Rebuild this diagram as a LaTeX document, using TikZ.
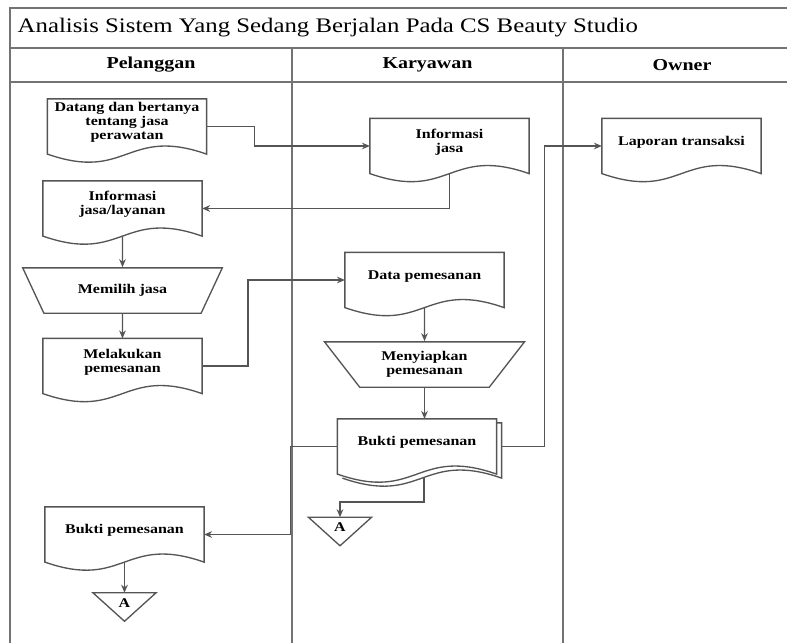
\documentclass[tikz,border=0pt]{standalone}
\usepackage{fontspec}
\setmainfont{Liberation Serif}[FakeStretch=1.2]
\usepackage{tikz}
\usetikzlibrary{positioning, shapes.geometric, arrows.meta, calc}
\definecolor{linegray}{RGB}{85,85,85}
\definecolor{framegray}{RGB}{115,115,115}

\begin{document}
\begin{tikzpicture}[
  x=0.75pt, y=-0.75pt,
  lane/.style={draw=framegray, line width=1.4pt},
  doc/.style={rectangle, minimum width=119pt, minimum height=41pt, text depth=8pt, inner sep=1pt, font=\bfseries\fontsize{10}{10.5}\selectfont, align=center},
  manual/.style={trapezium, trapezium stretches=true, shape border rotate=180, trapezium angle=50, draw=linegray, line width=1pt, minimum width=150pt, minimum height=34pt, inner sep=1pt, font=\bfseries\fontsize{10}{10.5}\selectfont, align=center},
  offpage/.style={rectangle, minimum width=47pt, minimum height=21pt, text depth=6pt, inner sep=0pt, font=\bfseries\fontsize{10}{10.5}\selectfont},
  docline/.style={draw=linegray, line width=1pt},
  arr/.style={-{Stealth[length=6pt, width=5pt]}, draw=linegray, line width=1pt},
]
  \useasboundingbox (0,0) rectangle (787,642);

  \draw[lane] (10,8) rectangle (801,660);
  \draw[lane] (10,48) -- (801,48);
  \draw[lane] (10,82) -- (801,82);
  \draw[lane] (292,48) -- (292,660);
  \draw[lane] (563,48) -- (563,660);

  \node[anchor=west, font=\fontsize{15.5}{18}\selectfont] (title) at (13,28) {Analisis Sistem Yang Sedang Berjalan Pada CS Beauty Studio};
  \node[font=\bfseries\fontsize{12.5}{15}\selectfont] (hpel) at (151,65) {Pelanggan};
  \node[font=\bfseries\fontsize{12.5}{15}\selectfont] (hkar) at (427.5,65) {Karyawan};
  \node[font=\bfseries\fontsize{12.5}{15}\selectfont] (hown) at (682,65) {Owner};

  \node[doc] (datang) at (127,126.5) {Datang dan bertanya\\tentang jasa\\perawatan};
  \node[doc] (infolay) at (122.5,208.5) {Informasi\\jasa/layanan};
  \node[manual] (memilih) at (122.5,290.5) {Memilih jasa};
  \node[doc] (melakukan) at (122.5,366) {Melakukan\\pemesanan};
  \node[doc] (buktip) at (124.5,534.5) {Bukti pemesanan};
  \node[offpage] (triapel) at (124.5,607) {A};

  \node[doc] (infojasa) at (449.5,146) {Informasi\\jasa};
  \node[doc] (datapem) at (424.5,280) {Data pemesanan};
  \node[manual] (menyiapkan) at (424.5,364.5) {Menyiapkan\\pemesanan};
  \node[doc] (buktik) at (417,446.5) {Bukti pemesanan};
  \node[offpage] (triakar) at (340,531.5) {A};

  \node[doc] (laporan) at (681.5,146) {Laporan transaksi};

  \foreach \n in {datang, infolay, melakukan, buktip, infojasa, laporan, datapem, buktik}
    \draw[docline] (\n.north west) -- (\n.north east) -- (\n.south east)
      .. controls +(-80,-28) and +(80,28) .. (\n.south west) -- cycle;
  \draw[docline] ($(buktik.north east)+(0,4)$) -- ++(5,0) -- ($(buktik.south east)+(5,4)$)
    .. controls +(-80,-28) and +(80,28) .. ($(buktik.south west)+(5,4)$);
  \foreach \n in {triapel, triakar}
    \draw[docline] (\n.north west) -- (\n.north east) -- (\n.south) -- cycle;

  \draw[arr] (datang.east) -- ++(48,0) |- (infojasa.west);
  \draw[arr] (infojasa.south) |- (infolay.east);
  \draw[arr] (infolay.south) -- (memilih.north);
  \draw[arr] (memilih.south) -- (melakukan.north);
  \draw[arr] (melakukan.east) -- ++(46,0) |- (datapem.west);
  \draw[arr] (datapem.south) -- (menyiapkan.north);
  \draw[arr] (menyiapkan.south) -- (menyiapkan.south |- buktik.north);
  \draw[arr] (buktik.west) -- ++(-47,0) |- (buktip.east);
  \draw[arr] ([xshift=3.75pt]buktik.east) -- ++(43,0) |- (laporan.west);
  \draw[arr] ($(buktik.south)+(7,4)$) -- ++(0,24) -| (triakar.north);
  \draw[arr] (buktip.south) -- (triapel.north);
\end{tikzpicture}
\end{document}
